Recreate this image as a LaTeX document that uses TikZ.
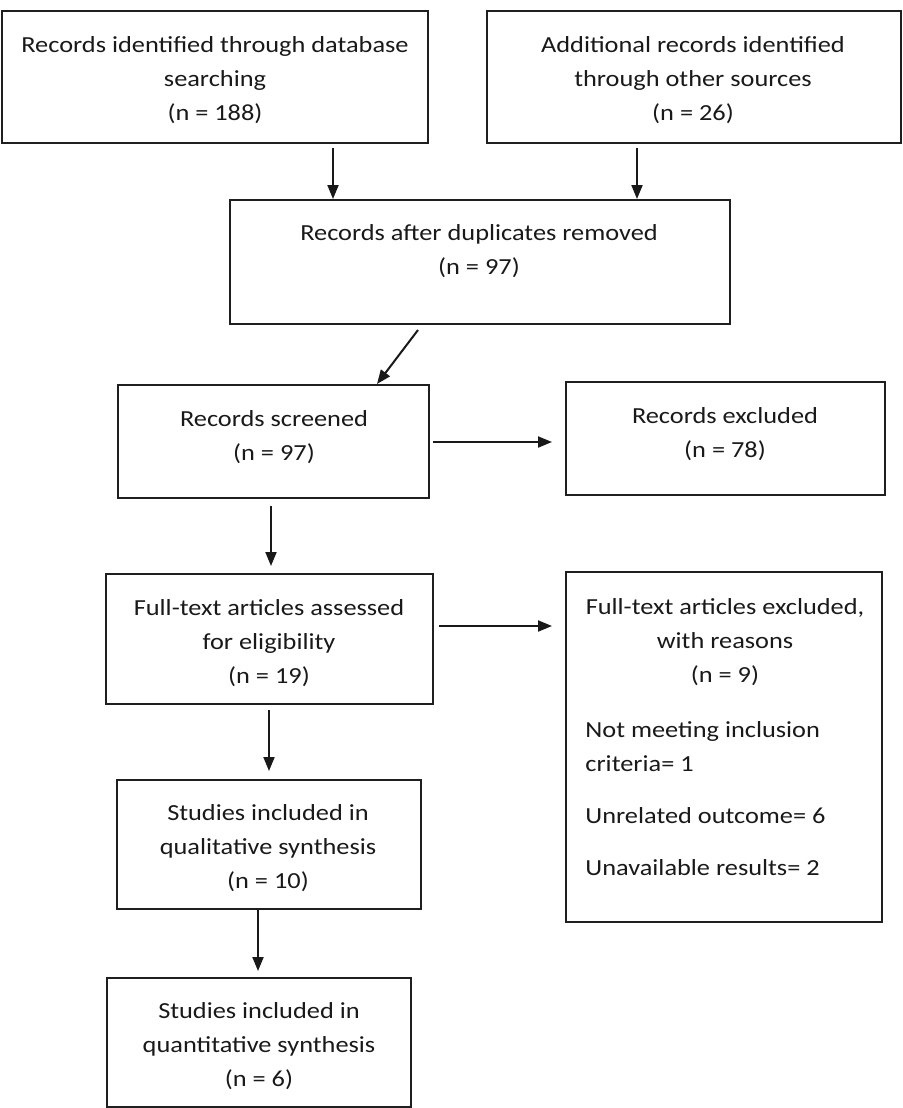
\documentclass[tikz,border=0pt]{standalone}
\usepackage{fontspec}
\setmainfont{Carlito}[FakeStretch=1.145]
\usetikzlibrary{arrows.meta,calc,fit}
\begin{document}
\begin{tikzpicture}[x=0.5pt,y=-0.5pt,
  box/.style={draw=black!88,line width=1pt,inner sep=0pt},
  txt/.style={font=\fontsize{11.5}{17}\selectfont,align=center,inner sep=0pt,text=black!90},
  rtxt/.style={font=\fontsize{11.5}{17}\selectfont,align=left,inner sep=0pt,anchor=base west,text=black!90},
  arr/.style={draw=black!90,line width=1pt,-{Triangle[length=7pt,width=5.5pt]}}]
\useasboundingbox (0,0) rectangle (903,1108);
% boxes
\node[box,fit={(2,11)(428,143)}] (b1) {};
\node[box,fit={(487,11)(901,143)}] (b2) {};
\node[box,fit={(230,200)(730,324)}] (b3) {};
\node[box,fit={(118,385)(429,498)}] (b4) {};
\node[box,fit={(566,382)(885,495)}] (b5) {};
\node[box,fit={(106,574)(433,704)}] (b6) {};
\node[box,fit={(566,572)(882,922)}] (b7) {};
\node[box,fit={(117,780)(421,909)}] (b8) {};
\node[box,fit={(107,978)(411,1107)}] (b9) {};
% texts
\node[txt] (t1) at (215,80) {Records identified through database\\searching\\(n = 188)};
\node[txt] (t2) at (693,80) {Additional records identified\\through other sources\\(n = 26)};
\node[txt] (t3) at (479,251) {Records after duplicates removed\\(n = 97)};
\node[txt] (t4) at (274,437) {Records screened\\(n = 97)};
\node[txt] (t5) at (725,434) {Records excluded\\(n = 78)};
\node[txt] (t6) at (269,643) {Full-text articles assessed\\for eligibility\\(n = 19)};
\node[txt] (t7) at (725,642) {Full-text articles excluded,\\with reasons\\(n = 9)};
\node[rtxt] (r1) at (585,737) {Not meeting inclusion};
\node[rtxt] (r2) at (585,771) {criteria= 1};
\node[rtxt] (r3) at (585,823) {Unrelated outcome= 6};
\node[rtxt] (r4) at (585,875) {Unavailable results= 2};
\node[txt] (t8) at (268,848) {Studies included in\\qualitative synthesis\\(n = 10)};
\node[txt] (t9) at (259,1046) {Studies included in\\quantitative synthesis\\(n = 6)};
% guide coordinates
\coordinate (xa) at (333,0);
\coordinate (xb) at (637,0);
\coordinate (xc) at (271,0);
\coordinate (xd) at (269,0);
\coordinate (xe) at (258,0);
\coordinate (ya) at (0,442);
\coordinate (yb) at (0,626);
% connectors
\draw[arr] ($(b1.south -| xa)+(0,4)$) -- (b3.north -| xa);
\draw[arr] ($(b2.south -| xb)+(0,4)$) -- (b3.north -| xb);
\draw[arr] ($(b3.south west)+(189,5)$) -- ($(b4.north west)+(260,0)$);
\draw[arr] ($(b4.east |- ya)+(3,0)$) -- ($(b5.west |- ya)+(-13,0)$);
\draw[arr] ($(b4.south -| xc)+(0,7)$) -- ($(b6.north -| xc)+(0,-7)$);
\draw[arr] ($(b6.east |- yb)+(5,0)$) -- ($(b7.west |- yb)+(-13,0)$);
\draw[arr] ($(b6.south -| xd)+(0,5)$) -- ($(b8.north -| xd)+(0,-8)$);
\draw[arr] (b8.south -| xe) -- ($(b9.north -| xe)+(0,-6)$);
\end{tikzpicture}
\end{document}
